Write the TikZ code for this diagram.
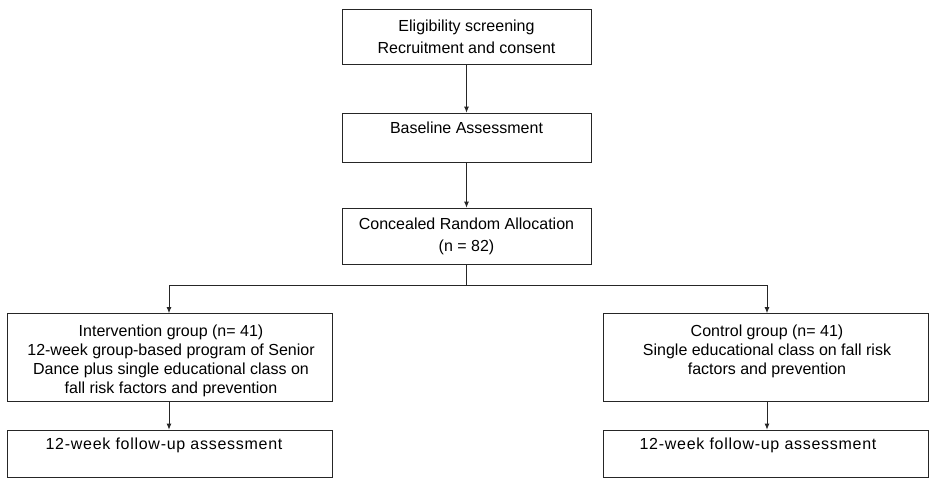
\documentclass[tikz,border=0pt]{standalone}
\usepackage{fontspec}
\setmainfont{Liberation Sans}
\usetikzlibrary{arrows.meta}

\begin{document}
\begin{tikzpicture}[x=1pt, y=-1pt,
  box/.style={draw=black!85, line width=0.8pt, inner sep=0pt},
  txt/.style={align=center, inner sep=0pt, anchor=north},
  link/.style={draw=black!85, line width=0.8pt},
  arr/.style={link, -{Latex[length=6pt, width=5pt]}}]
  \useasboundingbox (0,0) rectangle (931,487);
  % top column
  \node[box, minimum width=249pt, minimum height=55pt] (screen) at (466.5,36.5) {};
  \node[txt, font=\fontsize{16}{22}\selectfont] (screentxt) at (466.5,20) {Eligibility screening\\Recruitment and consent};
  \node[box, minimum width=249pt, minimum height=49pt] (base) at (466.5,137.5) {};
  \node[txt, font=\fontsize{16}{22}\selectfont] (basetxt) at (466.5,122) {Baseline Assessment};
  \node[box, minimum width=249pt, minimum height=56pt] (alloc) at (466.5,236) {};
  \node[txt, font=\fontsize{16}{22}\selectfont] (alloctxt) at (466.5,218) {Concealed Random Allocation\\(n = 82)};
  % groups
  \node[box, minimum width=325pt, minimum height=88pt] (interv) at (169.5,357.5) {};
  \node[txt, font=\fontsize{16}{19}\selectfont] (intervtxt) at (171,325) {Intervention group (n= 41)\\12-week group-based program of Senior\\Dance plus single educational class on\\fall risk factors and prevention};
  \node[box, minimum width=325pt, minimum height=88pt] (ctrl) at (765.5,357.5) {};
  \node[txt, font=\fontsize{16}{19}\selectfont] (ctrltxt) at (767,325) {Control group (n= 41)\\Single educational class on fall risk\\factors and prevention};
  % follow-up
  \node[box, minimum width=325pt, minimum height=47pt] (followL) at (169.5,453.5) {};
  \node[txt, font=\fontsize{16}{19}\selectfont\addfontfeatures{LetterSpace=4.5}] (followLtxt) at (164,438) {12-week follow-up assessment};
  \node[box, minimum width=325pt, minimum height=47pt] (followR) at (765.5,453.5) {};
  \node[txt, font=\fontsize{16}{19}\selectfont\addfontfeatures{LetterSpace=4.5}] (followRtxt) at (758,438) {12-week follow-up assessment};
  % connectors
  \coordinate (split) at (466.5,285);
  \coordinate (splitL) at (169,285);
  \coordinate (splitR) at (767,285);
  \draw[arr] (screen.south) -- (base.north);
  \draw[arr] (base.south) -- (alloc.north);
  \draw[link] (alloc.south) -- (split);
  \draw[arr] (split) -- (splitL) -- (splitL |- interv.north);
  \draw[arr] (split) -- (splitR) -- (splitR |- ctrl.north);
  \draw[arr] (splitL |- interv.south) -- (splitL |- followL.north);
  \draw[arr] (splitR |- ctrl.south) -- (splitR |- followR.north);
\end{tikzpicture}
\end{document}
